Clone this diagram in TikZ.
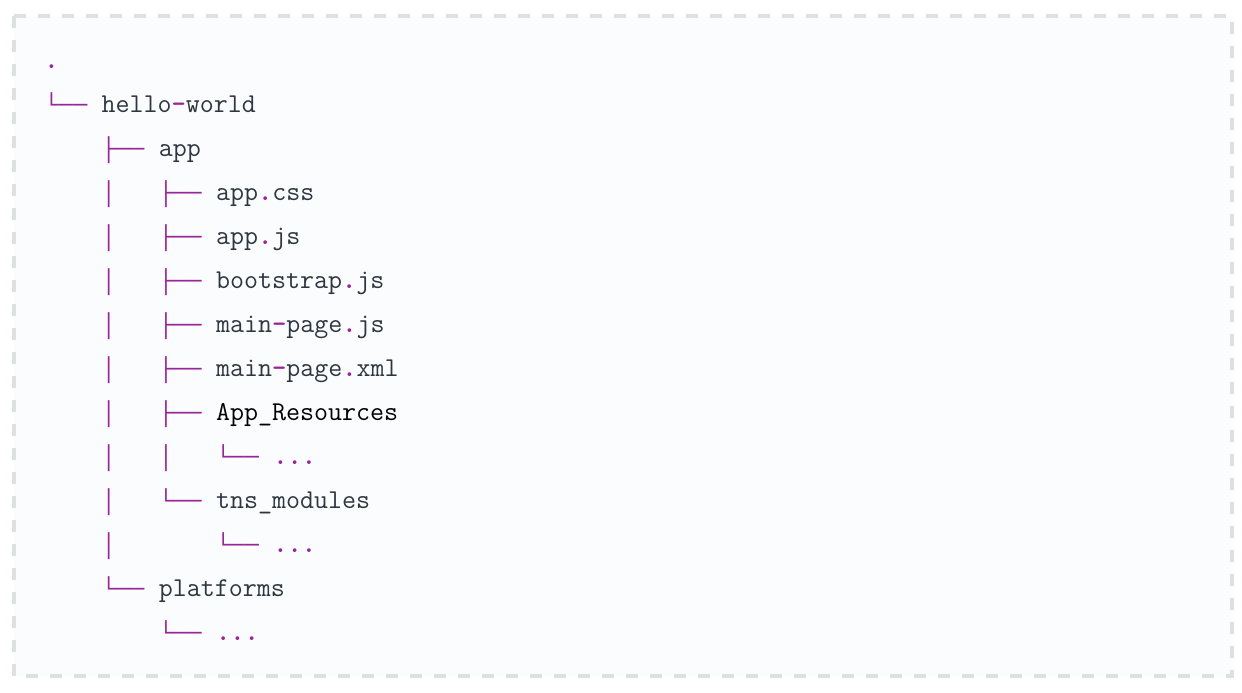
\documentclass[tikz,border=0pt]{standalone}
\usepackage{fontspec}
\newfontfamily\treefont{Liberation Mono}[Scale=0.8765]
\definecolor{treepurple}{HTML}{992699}
\definecolor{codegray}{HTML}{2F3640}
\definecolor{boxborder}{HTML}{DCE2E2}
\definecolor{boxfill}{HTML}{FAFCFE}
\newcommand{\tr}[1]{{\treefont\color{treepurple}#1}}
\newcommand{\pu}[1]{\textcolor{treepurple}{\bfseries#1}}

\begin{document}
\begin{tikzpicture}[x=0.5pt,y=-0.5pt,
  treeline/.style={anchor=base west,inner sep=0,font=\ttfamily\fontsize{13.6}{13.6}\selectfont,text=codegray}]

\fill[white] (0,0) rectangle (1242,692);
\draw[boxborder,fill=boxfill,line width=2pt,dash pattern=on 6pt off 6pt] (14,16) rectangle (1232,676);

\node[treeline] (root) at (44,68.5) {\pu{.}};
\node[treeline] (helloworld) at (44,112.5) {\tr{└──~}hello\pu{-}world};
\node[treeline] (app) at (44,156.5) {\tr{~~~~├──~}app};
\node[treeline] (appcss) at (44,200.5) {\tr{~~~~│~~~├──~}app\pu{.}css};
\node[treeline] (appjs) at (44,244.5) {\tr{~~~~│~~~├──~}app\pu{.}js};
\node[treeline] (bootstrap) at (44,288.5) {\tr{~~~~│~~~├──~}bootstrap\pu{.}js};
\node[treeline] (mainpagejs) at (44,332.5) {\tr{~~~~│~~~├──~}main\pu{-}page\pu{.}js};
\node[treeline] (mainpagexml) at (44,376.5) {\tr{~~~~│~~~├──~}main\pu{-}page\pu{.}xml};
\node[treeline] (resources) at (44,420.5) {\tr{~~~~│~~~├──~}\textcolor{black}{App\_Resources}};
\node[treeline] (resourcesdots) at (44,464.5) {\tr{~~~~│~~~│~~~└──~}\pu{...}};
\node[treeline] (tnsmodules) at (44,508.5) {\tr{~~~~│~~~└──~}tns\_modules};
\node[treeline] (tnsdots) at (44,552.5) {\tr{~~~~│~~~~~~~└──~}\pu{...}};
\node[treeline] (platforms) at (44,596.5) {\tr{~~~~└──~}platforms};
\node[treeline] (platformsdots) at (44,640.5) {\tr{~~~~~~~~└──~}\pu{...}};

\end{tikzpicture}
\end{document}
